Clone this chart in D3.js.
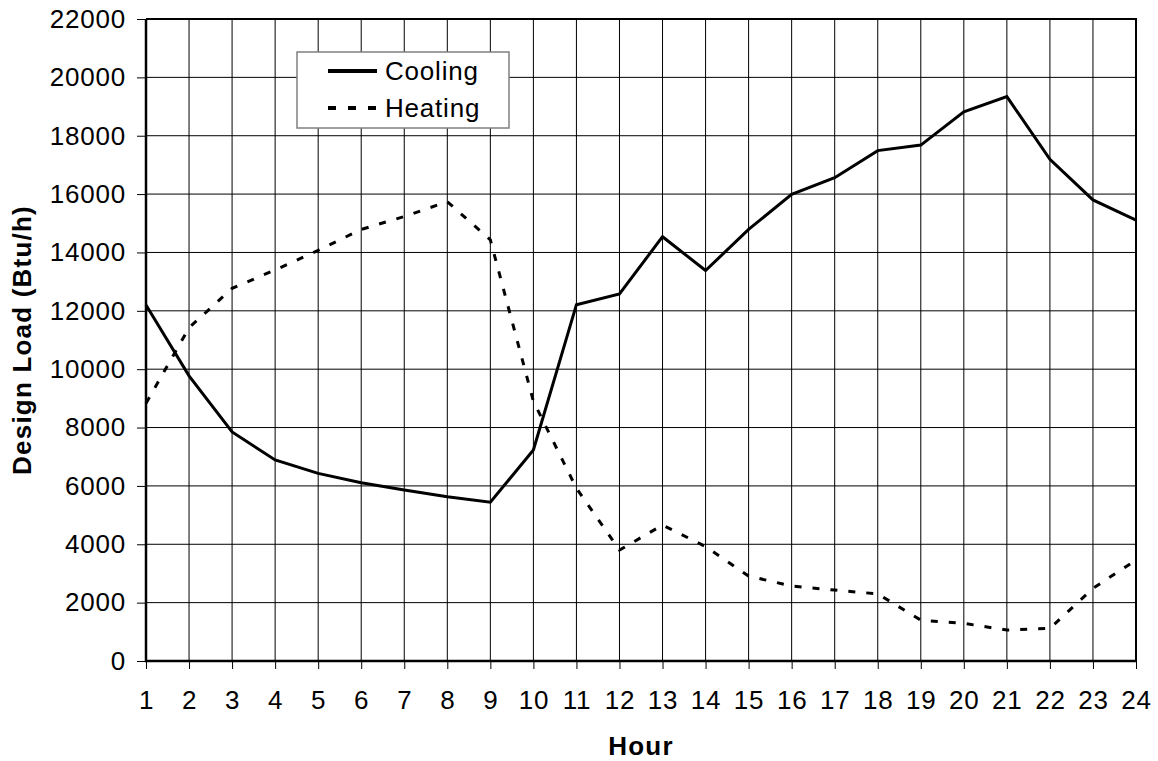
<!DOCTYPE html>
<html>
<head>
<meta charset="utf-8">
<script src="https://cdn.jsdelivr.net/npm/d3@7"></script>
<style>
  body { margin: 0; background: #fff; }
  svg { display: block; font-family: Arial, "Liberation Sans", sans-serif; }
  .tick text { font-size: 26px; letter-spacing: 0.8px; fill: #000; }
  .axis-title { font-size: 26px; font-weight: bold; letter-spacing: 1.2px; }
</style>
</head>
<body>
<svg id="chart" width="1158" height="761"></svg>
<script>
// hour of day
const hours = [1, 2, 3, 4, 5, 6, 7, 8, 9, 10, 11, 12, 13, 14, 15, 16, 17, 18, 19, 20, 21, 22, 23, 24];

// design load, Btu/h
const cooling = [12200, 9770, 7850, 6890, 6430, 6110, 5860, 5630, 5440, 7230, 12210, 12580,
  14540, 13380, 14790, 15990, 16560, 17490, 17680, 18820, 19340, 17190, 15800, 15110];
const heating = [8830, 11420, 12770, 13400, 14070, 14790, 15230, 15740, 14430, 8900, 5920, 3800,
  4660, 3920, 2910, 2570, 2430, 2300, 1400, 1290, 1060, 1120, 2490, 3460];

const yTicks = [0, 2000, 4000, 6000, 8000, 10000, 12000, 14000, 16000, 18000, 20000, 22000];

var svg = d3.select("#chart"),
  margin = { top: 19, right: 22, bottom: 100, left: 146 },
  width = +svg.attr("width") - margin.left - margin.right,
  height = +svg.attr("height") - margin.top - margin.bottom;

const x = d3.scaleLinear().domain([1, 24]).range([margin.left, margin.left + width]);
const y = d3.scaleLinear().domain([0, 22000]).range([margin.top + height, margin.top]);

// grid
svg.append("g")
  .selectAll("line")
  .data(hours)
  .join("line")
  .attr("x1", (d) => x(d)).attr("x2", (d) => x(d))
  .attr("y1", y(0)).attr("y2", y(22000))
  .attr("stroke", "#000").attr("stroke-width", 1);

svg.append("g")
  .selectAll("line")
  .data(yTicks)
  .join("line")
  .attr("x1", x(1)).attr("x2", x(24))
  .attr("y1", (d) => y(d)).attr("y2", (d) => y(d))
  .attr("stroke", "#000").attr("stroke-width", 1);

// axes
var yAxis = svg.append("g")
  .attr("transform", "translate(" + margin.left + ",0)")
  .call(d3.axisLeft(y).tickValues(yTicks).tickFormat(d3.format("d")).tickSize(9).tickPadding(11));
yAxis.select(".domain").remove();

var xAxis = svg.append("g")
  .attr("transform", "translate(0," + y(0) + ")")
  .call(d3.axisBottom(x).tickValues(hours).tickFormat(d3.format("d")).tickSize(8).tickPadding(22));
xAxis.select(".domain").remove();

// frame
svg.append("path")
  .attr("d", `M${x(1)},${y(22000)}H${x(24)}V${y(0)}`)
  .attr("fill", "none").attr("stroke", "#000").attr("stroke-width", 2);
svg.append("path")
  .attr("d", `M${x(1)},${y(22000)}V${y(0)}H${x(24)}`)
  .attr("fill", "none").attr("stroke", "#000").attr("stroke-width", 2.5);

// series
const line = d3.line().x((d, i) => x(hours[i])).y((d) => y(d));

svg.append("path")
  .datum(heating)
  .attr("d", line)
  .attr("fill", "none")
  .attr("stroke", "#000")
  .attr("stroke-width", 3)
  .attr("stroke-dasharray", "7,11");

svg.append("path")
  .datum(cooling)
  .attr("d", line)
  .attr("fill", "none")
  .attr("stroke", "#000")
  .attr("stroke-width", 3)
  .attr("stroke-linejoin", "miter");

// titles
svg.append("text")
  .attr("class", "axis-title")
  .attr("x", x(1) + width / 2)
  .attr("y", 755)
  .attr("text-anchor", "middle")
  .text("Hour");

svg.append("text")
  .attr("class", "axis-title")
  .attr("transform", `translate(31,${margin.top + height / 2}) rotate(-90)`)
  .attr("text-anchor", "middle")
  .text("Design Load (Btu/h)");

// legend
var legend = svg.append("g").attr("transform", "translate(297,52)");
legend.append("rect")
  .attr("width", 212).attr("height", 76)
  .attr("fill", "#fff").attr("stroke", "#808080").attr("stroke-width", 1.5);

const legendItems = [
  { name: "Cooling", dash: null },
  { name: "Heating", dash: "8,12" }
];
legendItems.forEach(function (d, i) {
  var gy = 19 + i * 37;
  legend.append("line")
    .attr("x1", 31).attr("x2", 80)
    .attr("y1", gy).attr("y2", gy)
    .attr("stroke", "#000").attr("stroke-width", 4)
    .attr("stroke-dasharray", d.dash);
  legend.append("text")
    .attr("x", 88).attr("y", gy)
    .attr("dy", "0.36em")
    .style("font-size", "26px")
    .style("letter-spacing", "0.8px")
    .text(d.name);
});
</script>
</body>
</html>
